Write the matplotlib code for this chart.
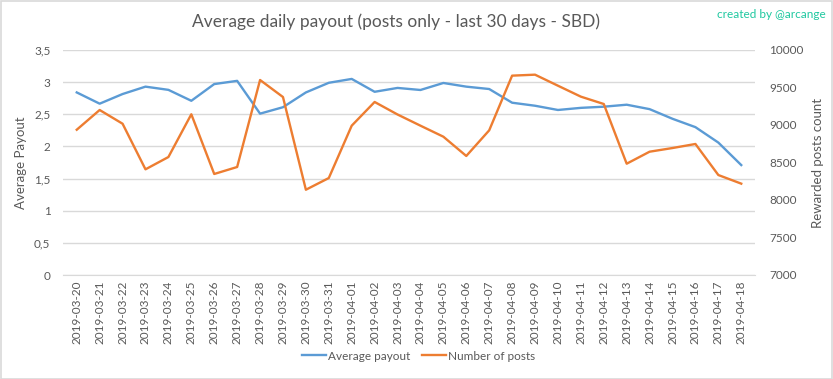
import matplotlib
matplotlib.use("Agg")
import matplotlib.pyplot as plt
from matplotlib.patches import Rectangle
from matplotlib.ticker import FixedLocator, FuncFormatter

dates = ["2019-03-20", "2019-03-21", "2019-03-22", "2019-03-23", "2019-03-24", "2019-03-25",
         "2019-03-26", "2019-03-27", "2019-03-28", "2019-03-29", "2019-03-30", "2019-03-31",
         "2019-04-01", "2019-04-02", "2019-04-03", "2019-04-04", "2019-04-05", "2019-04-06",
         "2019-04-07", "2019-04-08", "2019-04-09", "2019-04-10", "2019-04-11", "2019-04-12",
         "2019-04-13", "2019-04-14", "2019-04-15", "2019-04-16", "2019-04-17", "2019-04-18"]
avg_payout = [2.84, 2.665, 2.815, 2.93, 2.88, 2.71, 2.97, 3.02, 2.51, 2.61,
              2.84, 2.99, 3.05, 2.85, 2.91, 2.878, 2.987, 2.93, 2.893, 2.68,
              2.633, 2.567, 2.60, 2.618, 2.649, 2.58, 2.43, 2.30, 2.06, 1.71]
num_posts = [8937, 9200, 9017, 8409, 8573, 9143, 8347, 8440, 9600, 9373,
             8137, 8293, 8991, 9307, 9140, 8991, 8844, 8587, 8929, 9658,
             9671, 9524, 9378, 9280, 8484, 8644, 8693, 8747, 8333, 8218]

left_ticks = [0, 0.5, 1, 1.5, 2, 2.5, 3, 3.5]
right_ticks = [7000, 7500, 8000, 8500, 9000, 9500, 10000]

plt.rcParams['font.family'] = ['Lato', 'DejaVu Sans']
TXT = '#595959'
GRID = '#D9D9D9'
BLUE = '#5B9BD5'
ORANGE = '#ED7D31'

W, H = 833, 379
fig = plt.figure(figsize=(W / 100, H / 100), dpi=100)
ax = fig.add_axes([63 / W, 1 - 275 / H, (755 - 63) / W, (275 - 50) / H])
ax2 = ax.twinx()

x = list(range(len(dates)))
l1, = ax.plot(x, avg_payout, color=BLUE, lw=1.7, label='Average payout', zorder=3)
l2, = ax2.plot(x, num_posts, color=ORANGE, lw=1.7, label='Number of posts', zorder=3)

ax.set_xlim(-0.6, len(dates) - 0.4)
ax.set_ylim(0, 3.5)
ax2.set_ylim(7000, 10000)
ax.yaxis.set_major_locator(FixedLocator(left_ticks))
ax.yaxis.set_major_formatter(FuncFormatter(lambda v, p: ('%g' % v).replace('.', ',')))
ax2.yaxis.set_major_locator(FixedLocator(right_ticks))
ax.set_xticks(x)
ax.set_xticklabels(dates, rotation=90, fontsize=8, color=TXT)

ax.grid(axis='y', color=GRID, lw=1)
ax.set_axisbelow(True)
for a in (ax, ax2):
    for s in a.spines.values():
        s.set_visible(False)
    a.tick_params(length=0, colors=TXT, labelsize=8.5)
ax.spines['bottom'].set_visible(True)
ax.spines['bottom'].set_color(GRID)
ax.tick_params(axis='y', pad=9)
ax2.tick_params(axis='y', pad=10)
ax.tick_params(axis='x', pad=4)

ax.set_ylabel('Average Payout', color=TXT, fontsize=9.5, labelpad=5)
ax2.set_ylabel('Rewarded posts count', color=TXT, fontsize=9.5, rotation=90, labelpad=6)

fig.text(396 / W, 1 - 22 / H, 'Average daily payout (posts only - last 30 days - SBD)',
         ha='center', va='center', fontsize=12.5, color=TXT)
fig.text(826 / W, 1 - 15 / H, 'created by @arcange', ha='right', va='center',
         fontsize=8.5, color='#1FC8A0')

fig.legend(handles=[l1, l2], loc='center', bbox_to_anchor=(419 / W, 1 - 356 / H),
           ncol=2, frameon=False, fontsize=8.5, labelcolor=TXT, handlelength=2.0,
           columnspacing=1.0, handletextpad=0.2)

fig.patches.append(Rectangle((0.5 / W, 0.5 / H), 1 - 1.5 / W, 1 - 1.5 / H, transform=fig.transFigure,
                             fill=False, edgecolor=GRID, lw=1.2))

fig.savefig('out.png', dpi=100, facecolor='white')
